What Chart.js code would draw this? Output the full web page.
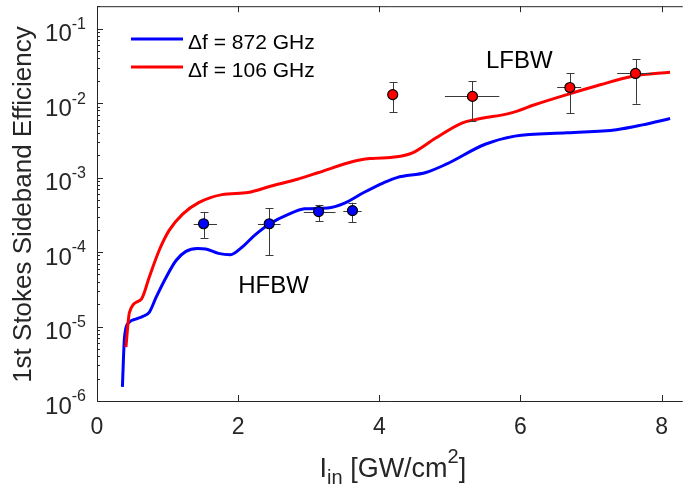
<!DOCTYPE html>
<html lang="en">
<head>
<meta charset="UTF-8">
<title>1st Stokes Sideband Efficiency</title>
<script src="https://cdn.jsdelivr.net/npm/chart.js@4"></script>
<style>
    body {
        margin: 0;
        background: #fff;
    }
    .wrap {
        width: 689px;
        height: 491px;
        position: relative;
    }
</style>
</head>
<body>
<div class="wrap"><canvas id="chart"></canvas></div>
<script>
// simulated curves
const blueCurveX = [0.36, 0.39, 0.46, 0.56, 0.65, 0.74, 0.84, 0.98, 1.12, 1.26, 1.42, 1.54, 1.72, 1.89, 2.05, 2.24, 2.45, 2.71, 2.94, 3.27, 3.5, 3.78, 4.06, 4.25, 4.66, 4.94, 5.5, 5.92, 6.66, 7.36, 7.73, 8.12];
const blueCurveY = [1.55e-6, 7.2e-6, 1.15e-5, 1.27e-5, 1.37e-5, 1.55e-5, 2.5e-5, 4.6e-5, 7.7e-5, 1.02e-4, 1.12e-4, 1.1e-4, 9.6e-5, 9.2e-5, 1.15e-4, 1.7e-4, 2.4e-4, 3.2e-4, 3.8e-4, 3.9e-4, 4.5e-4, 6.3e-4, 8.5e-4, 1.0e-3, 1.17e-3, 1.5e-3, 2.8e-3, 3.6e-3, 4.0e-3, 4.4e-3, 5.1e-3, 6.2e-3];
const redCurveX = [0.41, 0.46, 0.63, 0.74, 0.88, 1.02, 1.21, 1.44, 1.77, 2.14, 2.47, 2.84, 3.13, 3.64, 3.87, 4.25, 4.47, 4.8, 5.17, 5.36, 5.87, 6.2, 6.66, 7.13, 7.59, 8.12];
const redCurveY = [5.3e-6, 1.55e-5, 2.35e-5, 4.6e-5, 1.05e-4, 1.94e-4, 3.2e-4, 4.6e-4, 5.9e-4, 6.3e-4, 7.7e-4, 9.5e-4, 1.16e-3, 1.66e-3, 1.8e-3, 1.9e-3, 2.15e-3, 3.4e-3, 5.4e-3, 6.0e-3, 7.4e-3, 9.5e-3, 1.3e-2, 1.76e-2, 2.3e-2, 2.6e-2];

// measured points, HFBW (blue)
const hfX = [1.51, 2.44, 3.14, 3.62];
const hfY = [2.4e-4, 2.4e-4, 3.5e-4, 3.6e-4];
const hfYLow = [1.55e-4, 9.0e-5, 2.6e-4, 2.5e-4];
const hfYHigh = [3.4e-4, 3.9e-4, 4.3e-4, 4.6e-4];
const hfXLow = [1.37, 2.28, 2.93, 3.49];
const hfXHigh = [1.70, 2.60, 3.38, 3.75];

// measured points, LFBW (red)
const lfX = [4.19, 5.32, 6.70, 7.63];
const lfY = [1.3e-2, 1.23e-2, 1.62e-2, 2.5e-2];
const lfYLow = [7.6e-3, 5.7e-3, 7.3e-3, 9.8e-3];
const lfYHigh = [1.9e-2, 1.95e-2, 2.5e-2, 3.9e-2];
const lfXLow = [4.15, 4.93, 6.52, 7.37];
const lfXHigh = [4.23, 5.70, 6.86, 7.87];

const xTicks = [0, 2, 4, 6, 8];
const yDecades = [-6, -5, -4, -3, -2, -1];
const seriesLabels = ['\u0394f = 872 GHz', '\u0394f = 106 GHz'];
const seriesColors = ['#0000ff', '#ff0000'];
const notes = [
    { text: 'LFBW', x: 5.51, y: 0.0292 },
    { text: 'HFBW', x: 2.0, y: 2.86e-5 }
];

const ink = '#262626';
const fontFam = '"Liberation Sans", Arial, Helvetica, sans-serif';

function toXY(xs, ys) {
    return xs.map((x, i) => ({ x: x, y: ys[i] }));
}

function drawErrors(chart, xs, ys, yl, yh, xl, xh) {
    const ctx = chart.ctx;
    const sx = chart.scales.x, sy = chart.scales.y;
    ctx.save();
    ctx.strokeStyle = '#3a3a3a';
    ctx.lineWidth = 1;
    ctx.beginPath();
    for (let i = 0; i < xs.length; i++) {
        const px = Math.round(sx.getPixelForValue(xs[i])) + 0.5;
        const py = Math.round(sy.getPixelForValue(ys[i])) + 0.5;
        const y1 = sy.getPixelForValue(yl[i]);
        const y2 = sy.getPixelForValue(yh[i]);
        ctx.moveTo(px, y1); ctx.lineTo(px, y2);
        ctx.moveTo(px - 4, Math.round(y1) + 0.5); ctx.lineTo(px + 4, Math.round(y1) + 0.5);
        ctx.moveTo(px - 4, Math.round(y2) + 0.5); ctx.lineTo(px + 4, Math.round(y2) + 0.5);
        ctx.moveTo(sx.getPixelForValue(xl[i]), py);
        ctx.lineTo(sx.getPixelForValue(xh[i]), py);
    }
    ctx.stroke();
    ctx.restore();
}

const decorPlugin = {
    id: 'decor',
    beforeDatasetDraw(chart, args) {
        if (args.index === 0) drawErrors(chart, hfX, hfY, hfYLow, hfYHigh, hfXLow, hfXHigh);
        if (args.index === 1) drawErrors(chart, lfX, lfY, lfYLow, lfYHigh, lfXLow, lfXHigh);
    },
    afterDraw(chart) {
        const ctx = chart.ctx;
        const { left, right, top, bottom } = chart.chartArea;
        const sx = chart.scales.x, sy = chart.scales.y;
        ctx.save();

        // axes box (left, bottom, top)
        ctx.strokeStyle = ink;
        ctx.lineWidth = 1;
        ctx.beginPath();
        ctx.moveTo(right, top + 0.5);
        ctx.lineTo(left + 0.5, top + 0.5);
        ctx.lineTo(left + 0.5, bottom + 0.5);
        ctx.lineTo(right, bottom + 0.5);
        // x ticks, inward
        xTicks.forEach(v => {
            const px = Math.round(sx.getPixelForValue(v)) + 0.5;
            ctx.moveTo(px, bottom); ctx.lineTo(px, bottom - 6);
            ctx.moveTo(px, top); ctx.lineTo(px, top + 6);
        });
        // y ticks, major and minor
        yDecades.forEach(n => {
            const py = Math.round(sy.getPixelForValue(Math.pow(10, n))) + 0.5;
            ctx.moveTo(left, py); ctx.lineTo(left + 6, py);
            for (let k = 2; k <= 9; k++) {
                const v = k * Math.pow(10, n);
                if (v > sy.max) break;
                const pm = Math.round(sy.getPixelForValue(v)) + 0.5;
                ctx.moveTo(left, pm); ctx.lineTo(left + 3, pm);
            }
        });
        ctx.stroke();

        ctx.fillStyle = ink;
        // x tick labels
        ctx.font = '23px ' + fontFam;
        ctx.textAlign = 'center';
        ctx.textBaseline = 'middle';
        xTicks.forEach(v => {
            ctx.fillText(String(v), sx.getPixelForValue(v), bottom + 27);
        });

        // y tick labels 10^n
        const labRight = left - 11;
        yDecades.forEach(n => {
            const py = sy.getPixelForValue(Math.pow(10, n));
            const exp = '-' + Math.abs(n);
            ctx.font = '16px ' + fontFam;
            const ew = ctx.measureText(exp).width;
            ctx.textAlign = 'left';
            ctx.fillText(exp, labRight - ew, py - 4);
            ctx.font = '24px ' + fontFam;
            ctx.textAlign = 'right';
            ctx.fillText('10', labRight - ew, py + 6);
        });

        // y title
        ctx.save();
        ctx.translate(24, (top + bottom) / 2 + 1);
        ctx.rotate(-Math.PI / 2);
        ctx.font = '26px ' + fontFam;
        ctx.textAlign = 'center';
        ctx.textBaseline = 'middle';
        ctx.fillText('1st Stokes Sideband Efficiency', 0, 0);
        ctx.restore();

        // x title: I_in [GW/cm^2]
        const parts = [
            { t: 'I', size: 27, dy: 0 },
            { t: 'in', size: 20, dy: 7 },
            { t: ' [GW/cm', size: 27, dy: 0 },
            { t: '2', size: 20, dy: -14 },
            { t: ']', size: 27, dy: 0 }
        ];
        let total = 0;
        parts.forEach(p => {
            ctx.font = p.size + 'px ' + fontFam;
            p.w = ctx.measureText(p.t).width;
            total += p.w;
        });
        let cx = (left + right) / 2 + 3 - total / 2;
        ctx.textAlign = 'left';
        ctx.textBaseline = 'alphabetic';
        parts.forEach(p => {
            ctx.font = p.size + 'px ' + fontFam;
            ctx.fillText(p.t, cx, 477 + p.dy);
            cx += p.w;
        });

        // legend
        ctx.font = '21px ' + fontFam;
        seriesLabels.forEach((lab, i) => {
            const ly = 39 + i * 28;
            ctx.strokeStyle = seriesColors[i];
            ctx.lineWidth = 3;
            ctx.beginPath();
            ctx.moveTo(131, ly);
            ctx.lineTo(183, ly);
            ctx.stroke();
            ctx.fillStyle = '#000';
            ctx.fillText(lab, 188, ly + 10);
        });

        // annotations
        ctx.font = '24px ' + fontFam;
        ctx.fillStyle = '#000';
        notes.forEach(n => {
            ctx.fillText(n.text, sx.getPixelForValue(n.x), sy.getPixelForValue(n.y));
        });
        ctx.restore();
    }
};

new Chart(document.getElementById('chart'), {
    type: 'line',
    data: {
        datasets: [
            {
                label: 'HFBW',
                data: toXY(hfX, hfY),
                showLine: false,
                pointRadius: 5,
                pointBackgroundColor: '#0000ff',
                pointBorderColor: '#000',
                pointBorderWidth: 1.2,
                order: 0
            },
            {
                label: 'LFBW',
                data: toXY(lfX, lfY),
                showLine: false,
                pointRadius: 5,
                pointBackgroundColor: '#ff0000',
                pointBorderColor: '#000',
                pointBorderWidth: 1.2,
                order: 0
            },
            {
                label: seriesLabels[1],
                data: toXY(redCurveX, redCurveY),
                borderColor: seriesColors[1],
                borderWidth: 3,
                pointRadius: 0,
                cubicInterpolationMode: 'monotone',
                order: 1
            },
            {
                label: seriesLabels[0],
                data: toXY(blueCurveX, blueCurveY),
                borderColor: seriesColors[0],
                borderWidth: 3,
                pointRadius: 0,
                cubicInterpolationMode: 'monotone',
                order: 2
            }
        ]
    },
    options: {
        responsive: true,
        maintainAspectRatio: false,
        animation: false,
        layout: { padding: { top: 4, left: 0, right: 0, bottom: 0 } },
        plugins: {
            legend: { display: false },
            tooltip: { enabled: false }
        },
        scales: {
            x: {
                type: 'linear',
                min: 0,
                max: 8.3,
                grid: { display: false },
                border: { display: false },
                ticks: { display: false },
                afterBuildTicks: s => { s.ticks = xTicks.map(v => ({ value: v })); },
                afterFit: s => { s.height = 90; }
            },
            y: {
                type: 'logarithmic',
                min: 1e-6,
                max: 0.2,
                grid: { display: false },
                border: { display: false },
                ticks: { display: false },
                afterFit: s => { s.width = 97; }
            }
        }
    },
    plugins: [decorPlugin]
});
</script>
</body>
</html>
